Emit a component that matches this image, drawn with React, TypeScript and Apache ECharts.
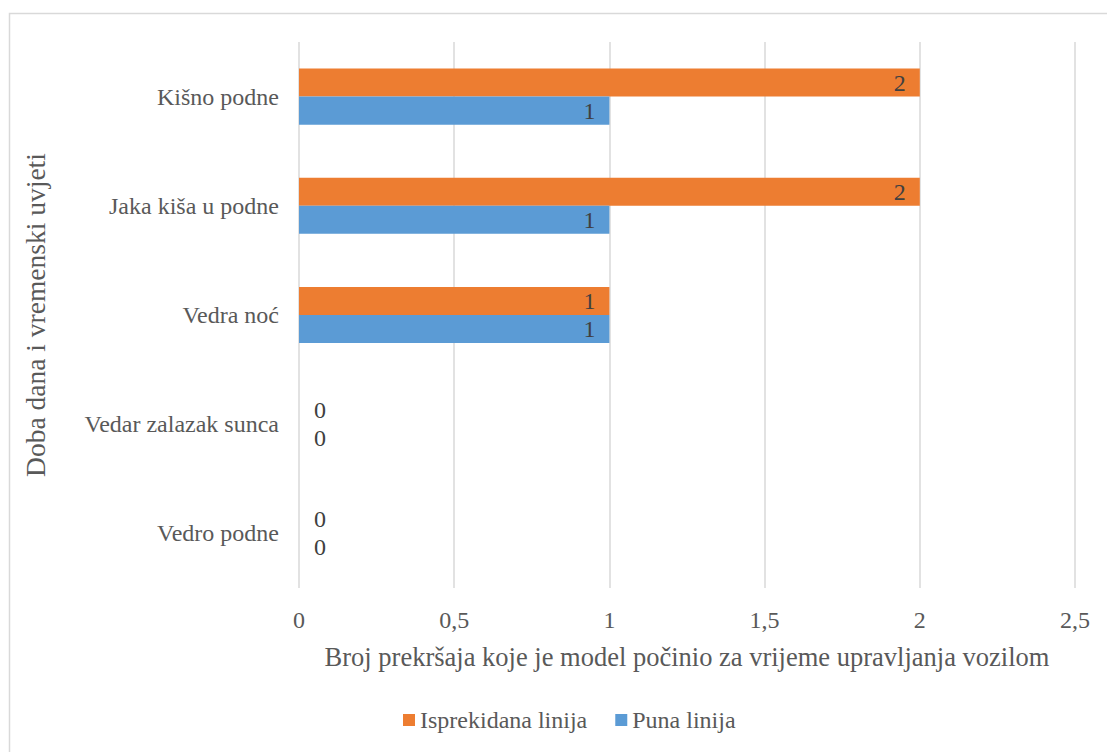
import React, { useEffect, useRef } from "react";
import * as echarts from "echarts";

const categories = ["Vedro podne", "Vedar zalazak sunca", "Vedra noć", "Jaka kiša u podne", "Kišno podne"];
const punaLinija = [0, 0, 1, 1, 1];
const isprekidanaLinija = [0, 0, 1, 2, 2];
const xTicks = [0, 0.5, 1, 1.5, 2, 2.5];

const FONT = "Times New Roman, Liberation Serif, DejaVu Serif, serif";
const TEXT = "#595959";

function toData(vals: number[]) {
  return vals.map((v) =>
    v === 0
      ? { value: v, label: { position: "right", distance: 15 } }
      : { value: v }
  );
}

export default function App() {
  const ref = useRef<HTMLDivElement>(null);
  useEffect(() => {
    const chart = echarts.init(ref.current!, null, { renderer: "svg" });
    const labelCfg = {
      show: true,
      position: "insideRight",
      distance: 14,
      color: "#404040",
      fontFamily: FONT,
      fontSize: 24,
    };
    chart.setOption({
      animation: false,
      textStyle: { fontFamily: FONT },
      graphic: [
        {
          type: "rect",
          shape: { x: 9.5, y: 13.5, width: 1110, height: 760 },
          style: { fill: "none", stroke: "#d9d9d9", lineWidth: 1.5 },
          silent: true,
        },
      ],
      legend: {
        data: ["Isprekidana linija", "Puna linija"],
        bottom: 15,
        left: 398,
        itemWidth: 12,
        itemHeight: 12,
        itemGap: 28,
        icon: "rect",
        textStyle: { color: TEXT, fontFamily: FONT, fontSize: 24 },
      },
      grid: { left: 299, right: 32, top: 42, bottom: 164, containLabel: false },
      xAxis: {
        type: "value",
        min: 0,
        max: 2.5,
        interval: 0.5,
        axisLine: { show: false },
        axisTick: { show: false },
        splitLine: { lineStyle: { color: "#d9d9d9", width: 1.5 } },
        axisLabel: {
          color: TEXT,
          fontFamily: FONT,
          fontSize: 24,
          margin: 20,
          formatter: (v: number) => (xTicks.includes(v) ? String(v).replace(".", ",") : ""),
        },
        name: "Broj prekršaja koje je model počinio za vrijeme upravljanja vozilom",
        nameLocation: "middle",
        nameGap: 55,
        nameTextStyle: { color: TEXT, fontFamily: FONT, fontSize: 26.5 },
      },
      yAxis: {
        type: "category",
        data: categories,
        axisLine: { show: false },
        axisTick: { show: false },
        axisLabel: { color: TEXT, fontFamily: FONT, fontSize: 24, margin: 20 },
        name: "Doba dana i vremenski uvjeti",
        nameLocation: "middle",
        nameGap: 250,
        nameRotate: 90,
        nameTextStyle: { color: TEXT, fontFamily: FONT, fontSize: 27.5 },
      },
      series: [
        {
          name: "Isprekidana linija",
          type: "bar",
          data: toData(isprekidanaLinija),
          itemStyle: { color: "#ed7d31" },
          barGap: "0%",
          barCategoryGap: "48.6%",
          label: labelCfg,
        },
        {
          name: "Puna linija",
          type: "bar",
          data: toData(punaLinija),
          itemStyle: { color: "#5b9bd5" },
          barGap: "0%",
          barCategoryGap: "48.6%",
          label: labelCfg,
        },
      ],
    });
    return () => chart.dispose();
  }, []);
  return (
    <div
      ref={ref}
      style={{ position: "absolute", left: 0, top: 0, width: 1107, height: 752 }}
    />
  );
}
